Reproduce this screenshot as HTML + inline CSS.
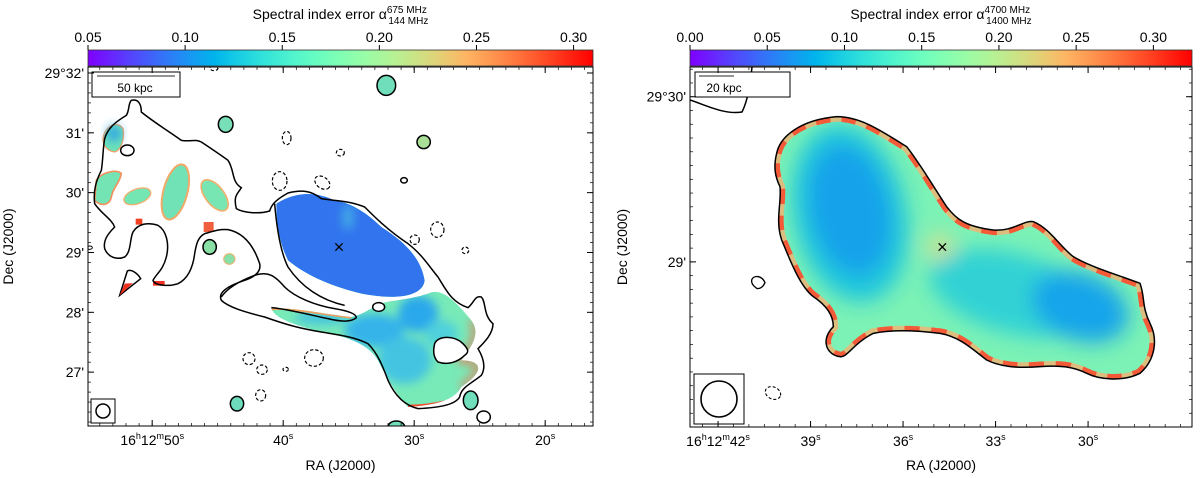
<!DOCTYPE html>
<html><head><meta charset="utf-8"><style>
html,body{margin:0;padding:0;background:#fff;width:1200px;height:478px;overflow:hidden}
svg{font-family:"Liberation Sans","DejaVu Sans",sans-serif}
</style></head><body>
<svg id="fig" width="1200" height="478" viewBox="0 0 1200 478" xmlns="http://www.w3.org/2000/svg">
<defs>
<linearGradient id="cbL" x1="0" x2="1" y1="0" y2="0"></linearGradient>
<linearGradient id="cbR" x1="0" x2="1" y1="0" y2="0"></linearGradient>
<clipPath id="clipL"><rect x="88" y="67" width="505" height="359"/></clipPath>
<clipPath id="clipR"><rect x="690" y="67" width="502" height="360"/></clipPath>
<filter id="blurL" x="-50%" y="-50%" width="200%" height="200%"><feGaussianBlur stdDeviation="14"/></filter>
<filter id="blurR" x="-50%" y="-50%" width="200%" height="200%"><feGaussianBlur stdDeviation="30"/></filter>
<clipPath id="srcR"><path id="srcRpath" d="M110,160 C120,110 180,60 290,50 C360,50 420,90 500,140 C540,190 580,260 620,320 C650,360 680,380 760,390 C820,395 850,360 880,365 C930,385 960,440 1000,470 C1050,500 1120,520 1200,550 C1215,590 1205,620 1230,670 C1255,720 1245,780 1200,820 C1150,845 1080,840 1040,820 C1000,800 960,795 900,800 C830,805 780,800 740,780 C700,750 660,710 600,700 C520,690 450,690 400,700 C340,730 320,775 300,770 C260,765 240,720 280,680 C280,640 250,610 220,590 C180,560 150,480 125,420 C105,360 125,310 120,260 C105,230 100,200 110,160 Z"/></clipPath>
<clipPath id="greenL"><path d="M550,725 C600,718 700,740 790,750 C830,742 850,720 880,710 C900,700 960,700 1020,680 C1060,660 1100,700 1150,760 C1180,800 1150,840 1120,880 C1180,880 1195,910 1120,960 C1100,1000 1040,1015 960,1020 C930,990 900,940 870,880 C840,830 780,810 700,795 C600,770 560,750 550,725 Z M565,410 C620,375 680,372 740,400 C780,405 830,430 880,480 C960,530 1000,580 1010,640 C1005,690 920,700 820,680 C740,660 660,630 600,580 C570,520 565,460 565,410 Z"/></clipPath>
</defs>

<!-- LEFT PANEL -->
<g clip-path="url(#clipL)">
 <g transform="translate(88,67) scale(0.33333)">
  <g clip-path="url(#greenL)">
    <rect x="500" y="350" width="750" height="700" fill="#78eab8"/>
    <g filter="url(#blurL)">
      <ellipse cx="860" cy="790" rx="90" ry="50" fill="#34b4ea"/>
      <ellipse cx="990" cy="740" rx="60" ry="55" fill="#2aa8ec"/>
      <ellipse cx="950" cy="880" rx="80" ry="70" fill="#44c4e2"/>
      <ellipse cx="700" cy="752" rx="80" ry="20" fill="#44c2e0"/>
      <ellipse cx="1060" cy="800" rx="50" ry="40" fill="#50d0dc"/>
    </g>
    <use href="#greenLpath" fill="none"/>
    <path d="M1150,760 C1180,800 1150,840 1120,880 C1180,880 1195,910 1120,960" fill="none" stroke="#f07050" stroke-width="16" filter="url(#blurL)"/>
    <path d="M550,725 C600,718 700,740 790,750" fill="none" stroke="#f0a060" stroke-width="10"/>
    <path d="M960,1020 C1000,1020 1040,1015 1080,1005" fill="none" stroke="#f05030" stroke-width="14"/>
    <path d="M565,410 C620,375 680,372 740,400 C780,405 830,430 880,480 C960,530 1000,580 1010,640 C1005,690 920,700 820,680 C740,660 660,630 600,580 C570,520 565,460 565,410 Z" fill="#3174ee"/>
    <ellipse cx="780" cy="450" rx="18" ry="40" fill="#40a8e6" filter="url(#blurL)"/>
  </g>
  <g>
    <path d="M45,215 C50,175 90,160 105,185 C110,215 100,250 80,255 C60,252 45,240 45,215 Z" fill="#6ee2b8" stroke="#f5a060" stroke-width="4"/>
    <ellipse cx="78" cy="200" rx="20" ry="24" fill="#2aa0e8" filter="url(#blurL)"/>
    <path d="M25,340 C40,315 90,305 100,320 C95,350 75,360 70,390 C65,415 40,420 20,400 Z" fill="#74e4b4" stroke="#f5905a" stroke-width="5"/>
    <ellipse cx="148" cy="388" rx="42" ry="22" transform="rotate(-20 148 388)" fill="#74e6b4" stroke="#f2b070" stroke-width="4"/>
    <ellipse cx="262" cy="375" rx="36" ry="85" transform="rotate(15 262 375)" fill="#70e2b6" stroke="#f2a868" stroke-width="6"/>
    <ellipse cx="380" cy="385" rx="28" ry="55" transform="rotate(-38 380 385)" fill="#78e6b2" stroke="#f2b070" stroke-width="5"/>
    <rect x="143" y="455" width="20" height="18" fill="#f04020"/>
    <rect x="347" y="465" width="30" height="30" fill="#f06040"/>
    <ellipse cx="365" cy="540" rx="20" ry="22" fill="#88e0a4" stroke="#000" stroke-width="4.5"/>
    <ellipse cx="424" cy="576" rx="17" ry="16" fill="#88e0a8" stroke="#f0b070" stroke-width="3"/>
    <path d="M95,685 L118,612 C130,605 150,620 158,635 L120,665 Z" fill="none" stroke="#000" stroke-width="4.5"/>
    <path d="M95,685 L110,650 L135,648 Z" fill="#f03020"/>
    <rect x="195" y="642" width="35" height="14" fill="#f03020"/>
  </g>
  <path fill="none" stroke="#000" stroke-width="4.5"
   d="M130,100 C150,95 160,110 160,135 C190,160 230,185 280,220 C310,225 320,215 340,225 C370,245 400,265 420,280 C440,310 430,345 460,362 C450,380 435,385 445,425 C470,440 520,440 545,432 C550,415 560,400 600,378 C640,368 670,370 700,395 C740,402 780,400 830,420 C860,450 900,490 960,530 C1000,560 1025,600 1050,630 C1075,670 1090,705 1140,722 C1160,705 1160,685 1180,690 C1195,705 1185,745 1215,770 C1215,800 1190,825 1170,845 C1185,870 1195,900 1180,925 C1150,950 1120,960 1115,990 C1100,1015 1050,1022 990,1025 C950,1015 920,985 900,940 C885,900 870,860 840,830 C800,810 760,805 700,795 C640,785 600,775 530,750 C470,735 420,720 400,700 C390,680 410,660 470,640 C505,628 520,612 515,590 C505,560 480,500 420,488 C390,485 370,495 350,500 C330,510 325,530 320,560 C315,600 300,635 270,650 C240,660 200,655 195,640 C205,620 225,610 235,570 C245,530 235,490 210,475 C180,465 150,470 135,495 C125,515 130,555 110,570 C85,580 60,570 50,545 C45,520 60,500 80,480 C70,455 40,440 20,410 C15,370 25,340 40,310 C45,280 45,240 50,215 C60,180 90,160 115,145 C125,130 120,110 130,100 Z"/>
  <path fill="none" stroke="#000" stroke-width="4.5"
   d="M400,690 C420,660 460,640 500,625 C540,612 560,625 590,660 C620,690 680,715 740,725 C780,732 805,740 805,752 C790,765 760,765 720,755 C650,740 590,725 550,722"/>
  <path d="M560,410 C565,470 575,550 600,600 C640,660 700,700 770,715" fill="none" stroke="#000" stroke-width="4.5"/>
  <ellipse cx="872" cy="720" rx="18" ry="13" fill="#fff" stroke="#000" stroke-width="4.5"/>
  <path d="M1040,830 C1050,805 1100,805 1125,830 C1140,845 1145,855 1130,865 C1110,885 1080,895 1050,885 C1035,870 1035,850 1040,830 Z" fill="#fff" stroke="#000" stroke-width="4.5"/>
  <ellipse cx="118" cy="250" rx="20" ry="16" fill="#fff" stroke="#000" stroke-width="4.5"/>
  <g stroke="#000" stroke-width="4.5">
    <ellipse cx="895" cy="55" rx="28" ry="30" fill="#70deba"/>
    <ellipse cx="413" cy="172" rx="22" ry="24" fill="#78dfb8"/>
    <ellipse cx="1007" cy="225" rx="20" ry="20" fill="#a8e098"/>
    <ellipse cx="447" cy="1010" rx="20" ry="22" fill="#6cdcbc"/>
    <ellipse cx="1148" cy="1000" rx="22" ry="28" fill="#70deba"/>
    <ellipse cx="925" cy="1080" rx="25" ry="18" fill="#70deba"/>
    <ellipse cx="1187" cy="1050" rx="20" ry="18" fill="none"/>
    <ellipse cx="948" cy="340" rx="10" ry="8" fill="none"/>
    <ellipse cx="5" cy="542" rx="8" ry="5" fill="none" stroke-width="3"/>
  </g>
  <g fill="none" stroke="#000" stroke-width="3.5" stroke-dasharray="10,6">
    <ellipse cx="378" cy="3" rx="12" ry="8"/>
    <ellipse cx="596" cy="213" rx="13" ry="20"/>
    <ellipse cx="757" cy="257" rx="12" ry="10"/>
    <ellipse cx="575" cy="342" rx="22" ry="28"/>
    <ellipse cx="703" cy="347" rx="25" ry="17" transform="rotate(35 703 347)"/>
    <ellipse cx="1048" cy="488" rx="20" ry="23"/>
    <ellipse cx="980" cy="518" rx="14" ry="14"/>
    <ellipse cx="1132" cy="550" rx="10" ry="10"/>
    <ellipse cx="483" cy="875" rx="18" ry="18"/>
    <ellipse cx="522" cy="908" rx="16" ry="14"/>
    <ellipse cx="678" cy="873" rx="28" ry="25"/>
    <ellipse cx="518" cy="985" rx="15" ry="17"/>
    <ellipse cx="593" cy="907" rx="8" ry="6"/>
  </g>
  <path d="M742,529 L764,551 M764,529 L742,551" stroke="#000" stroke-width="4"/>
 </g>
  <rect x="92" y="72" width="88" height="25" fill="#fff" stroke="#000" stroke-width="1"/>
  <line x1="97" y1="76" x2="175" y2="76" stroke="#555" stroke-width="1.2"/>
  <text x="135" y="92" font-size="12" text-anchor="middle">50 kpc</text>
  <rect x="91" y="399" width="24" height="24" fill="#fff" stroke="#000"/>
  <ellipse cx="103" cy="411" rx="7" ry="7" fill="none" stroke="#000" stroke-width="1.5"/>
</g>

<!-- RIGHT PANEL -->
<g clip-path="url(#clipR)">
  <path d="M690,100 C705,105 725,115 742,112 C748,100 750,85 752,67" fill="none" stroke="#000" stroke-width="1.5"/>
 <g transform="translate(740,100) scale(0.33333)">
  <g clip-path="url(#srcR)">
    <rect x="80" y="30" width="1200" height="850" fill="#7cf2b6"/>
    <g filter="url(#blurR)">
      <ellipse cx="330" cy="340" rx="170" ry="270" transform="rotate(-12 330 340)" fill="#22c8dc"/>
      <ellipse cx="330" cy="330" rx="120" ry="200" transform="rotate(-12 330 330)" fill="#12a2ea"/>
      <ellipse cx="820" cy="580" rx="260" ry="120" transform="rotate(15 820 580)" fill="#30d2d4"/>
      <ellipse cx="1020" cy="620" rx="150" ry="100" transform="rotate(20 1020 620)" fill="#12a4ea"/>
      <ellipse cx="600" cy="440" rx="40" ry="40" fill="#d0e090"/>
    </g>
    <use href="#srcRpath" fill="none" stroke="#f6b070" stroke-width="30" opacity="0.8"/>
    <use href="#srcRpath" fill="none" stroke="#f25a38" stroke-width="30" stroke-dasharray="45,35"/>
  </g>
  <path fill="none" stroke="#000" stroke-width="4.5"
   d="M110,160 C120,110 180,60 290,50 C360,50 420,90 500,140 C540,190 580,260 620,320 C650,360 680,380 760,390 C820,395 850,360 880,365 C930,385 960,440 1000,470 C1050,500 1120,520 1200,550 C1215,590 1205,620 1230,670 C1255,720 1245,780 1200,820 C1150,845 1080,840 1040,820 C1000,800 960,795 900,800 C830,805 780,800 740,780 C700,750 660,710 600,700 C520,690 450,690 400,700 C340,730 320,775 300,770 C260,765 240,720 280,680 C280,640 250,610 220,590 C180,560 150,480 125,420 C105,360 125,310 120,260 C105,230 100,200 110,160 Z"/>
  <path d="M35,540 C40,525 65,525 75,548 C70,560 60,568 50,565 C40,558 33,550 35,540 Z" fill="none" stroke="#000" stroke-width="4"/>
  <path d="M596,430 L618,452 M618,430 L596,452" stroke="#000" stroke-width="4"/>
 </g>
  <ellipse cx="773" cy="393" rx="8" ry="6" transform="rotate(25 773 393)" fill="none" stroke="#000" stroke-width="1.1" stroke-dasharray="3,2"/>
  <rect x="695" y="72" width="95" height="25" fill="#fff" stroke="#000"/>
  <line x1="699" y1="76" x2="734" y2="76" stroke="#555" stroke-width="1.2"/>
  <text x="724" y="92" font-size="12" text-anchor="middle">20 kpc</text>
  <rect x="694" y="374" width="50" height="50" fill="#fff" stroke="#000"/>
  <circle cx="719" cy="399" r="18" fill="none" stroke="#000" stroke-width="1.6"/>
</g>

<g id="axes"></g>
</svg>
<script>
// colorbar data
const cbLeftTicks = [0.05, 0.10, 0.15, 0.20, 0.25, 0.30];
const cbLeftRange = [0.05, 0.31];
const cbRightTicks = [0.00, 0.05, 0.10, 0.15, 0.20, 0.25, 0.30];
const cbRightRange = [0.00, 0.325];
// axis tick data (seconds of RA / arcmin of Dec)
const raLeftTicks = [50, 40, 30, 20];
const raLeftLabels = ["16h12m50s", "40s", "30s", "20s"];
const raLeftRange = [54.9, 16.35];
const decLeftTicks = [32, 31, 30, 29, 28, 27];
const decLeftLabels = ["29°32'", "31'", "30'", "29'", "28'", "27'"];
const decLeftRange = [32.1, 26.1];
const raRightTicks = [42, 39, 36, 33, 30];
const raRightLabels = ["16h12m42s", "39s", "36s", "33s", "30s"];
const raRightRange = [42.91, 26.63];
const decRightTicks = [30, 29];
const decRightLabels = ["29°30'", "29'"];
const decRightRange = [30.18, 28.0];

const NS = "http://www.w3.org/2000/svg";
const ax = document.getElementById('axes');
function mk(tag, attrs, parent){const e=document.createElementNS(NS,tag);for(const k in attrs)e.setAttribute(k,attrs[k]);(parent||ax).appendChild(e);return e;}
function rainbow(x){const r=Math.min(1,Math.abs(2*x-0.5)),g=Math.sin(Math.PI*x),b=Math.cos(Math.PI*x/2);return `rgb(${Math.round(r*255)},${Math.round(g*255)},${Math.round(Math.max(0,b)*255)})`;}
['cbL','cbR'].forEach(id=>{const g=document.getElementById(id);for(let i=0;i<=20;i++){mk('stop',{offset:i/20,'stop-color':rainbow(i/20)},g);}});
function lin(d0,d1,p0,p1){return v=>p0+(v-d0)/(d1-d0)*(p1-p0);}
function labelRA(t,x,y){
  const txt=mk('text',{x:x,y:y,'font-size':14,'text-anchor':'middle'});
  const m=t.match(/^(\d+)h(\d+)m(\d+)s$/);
  if(m){[[m[1],''],['h','s'],[m[2],''],['m','s'],[m[3],''],['s','s']].forEach(p=>{const ts=mk('tspan',{},txt);ts.textContent=p[0];if(p[1]){ts.setAttribute('font-size','9');ts.setAttribute('dy','-6');}else if(txt.childNodes.length>1){ts.setAttribute('dy','6');}});}
  else{const a=mk('tspan',{},txt);a.textContent=t.replace('s','');const b=mk('tspan',{'font-size':9,dy:-6},txt);b.textContent='s';}
  return txt;
}
function panel(o){
  const cb=mk('rect',{x:o.x0,y:50,width:o.x1-o.x0,height:16,fill:`url(#${o.grad})`,stroke:'#333','stroke-width':0.8});
  
  
  const cs=lin(o.cbRange[0],o.cbRange[1],o.x0,o.x1);
  o.cbTicks.forEach(v=>{const x=cs(v);mk('line',{x1:x,x2:x,y1:50,y2:45,stroke:'#000'});
    const t=mk('text',{x:x,y:42,'font-size':14,'text-anchor':'middle'});t.textContent=v.toFixed(2);
    
    });
  const ttl=mk('text',{x:(o.x0+o.x1)/2,y:19,'font-size':14,'text-anchor':'middle'});
  
  
  const a=mk('tspan',{},ttl);a.textContent='Spectral index error α';
  const sup=mk('tspan',{'font-size':10,dy:-6},ttl);sup.textContent=o.sup;
  const sub=mk('tspan',{'font-size':10,dy:11,dx:-(o.sup.length*5.5)},ttl);sub.textContent=o.sub;
  const fr=mk('rect',{x:o.x0,y:o.y0,width:o.x1-o.x0,height:o.y1-o.y0,fill:'none',stroke:'#000','stroke-width':1});
  
  
  const xs=lin(o.ra[0],o.ra[1],o.x0,o.x1), ys=lin(o.dec[0],o.dec[1],o.y0,o.y1);
  for(let v=Math.ceil(Math.min(...o.ra)*o.raMinor)/o.raMinor; v<=Math.max(...o.ra); v+=1/o.raMinor){const x=xs(v);
    mk('line',{x1:x,x2:x,y1:o.y1,y2:o.y1-3,stroke:'#000','stroke-width':0.7});mk('line',{x1:x,x2:x,y1:o.y0,y2:o.y0+3,stroke:'#000','stroke-width':0.7});}
  for(let v=Math.ceil(Math.min(...o.dec)*o.decMinor)/o.decMinor; v<=Math.max(...o.dec); v+=1/o.decMinor){const y=ys(v);
    mk('line',{x1:o.x0,x2:o.x0+3,y1:y,y2:y,stroke:'#000','stroke-width':0.7});mk('line',{x1:o.x1,x2:o.x1-3,y1:y,y2:y,stroke:'#000','stroke-width':0.7});}
  o.raTicks.forEach((v,i)=>{const x=xs(v);mk('line',{x1:x,x2:x,y1:o.y1,y2:o.y1-6,stroke:'#000'});mk('line',{x1:x,x2:x,y1:o.y0,y2:o.y0+6,stroke:'#000'});
    const t=labelRA(o.raLabels[i],x,o.y1+19);
    
    });
  o.decTicks.forEach((v,i)=>{const y=ys(v);mk('line',{x1:o.x0,x2:o.x0+6,y1:y,y2:y,stroke:'#000'});mk('line',{x1:o.x1,x2:o.x1-6,y1:y,y2:y,stroke:'#000'});
    const t=mk('text',{x:o.x0-4,y:y+5,'font-size':14,'text-anchor':'end'});t.textContent=o.decLabels[i];
    
    });
  const xl=mk('text',{x:(o.x0+o.x1)/2,y:470,'font-size':14,'text-anchor':'middle'});xl.textContent='RA (J2000)';
  
  
  const yx=o.x0-o.ylOff, yy=(o.y0+o.y1)/2;
  const yl=mk('text',{x:yx,y:yy,'font-size':14,'text-anchor':'middle',transform:`rotate(-90 ${yx} ${yy})`});yl.textContent='Dec (J2000)';
  
  
}
panel({side:'left',x0:88,x1:593,y0:67,y1:426,grad:'cbL',cbTicks:cbLeftTicks,cbRange:cbLeftRange,sup:'675 MHz',sub:'144 MHz',
  ra:raLeftRange,dec:decLeftRange,raTicks:raLeftTicks,raLabels:raLeftLabels,decTicks:decLeftTicks,decLabels:decLeftLabels,raMinor:1,decMinor:6,ylOff:75});
panel({side:'right',x0:690,x1:1192,y0:67,y1:427,grad:'cbR',cbTicks:cbRightTicks,cbRange:cbRightRange,sup:'4700 MHz',sub:'1400 MHz',
  ra:raRightRange,dec:decRightRange,raTicks:raRightTicks,raLabels:raRightLabels,decTicks:decRightTicks,decLabels:decRightLabels,raMinor:2,decMinor:12,ylOff:63});
</script>
</body></html>
